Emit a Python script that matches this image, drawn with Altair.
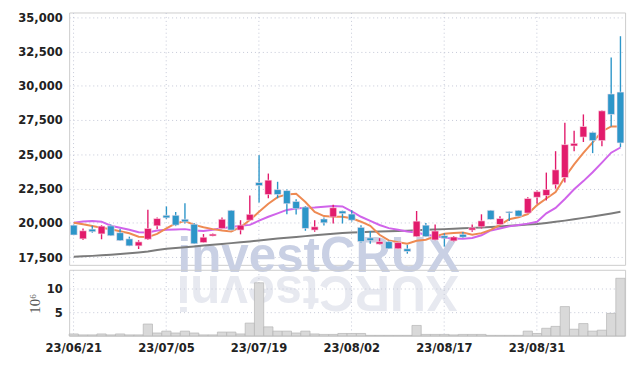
import altair as alt
import pandas as pd

# Trading days (yy/mm/dd)
dates = [
    "23/06/21", "23/06/22", "23/06/23", "23/06/26", "23/06/27", "23/06/28", "23/06/29", "23/06/30",
    "23/07/03", "23/07/04", "23/07/05", "23/07/06", "23/07/07", "23/07/10", "23/07/11", "23/07/12",
    "23/07/13", "23/07/14", "23/07/17", "23/07/18", "23/07/19", "23/07/20", "23/07/21", "23/07/24",
    "23/07/25", "23/07/26", "23/07/27", "23/07/28", "23/07/31", "23/08/01", "23/08/02", "23/08/03",
    "23/08/04", "23/08/07", "23/08/08", "23/08/09", "23/08/10", "23/08/11", "23/08/14", "23/08/16",
    "23/08/17", "23/08/18", "23/08/21", "23/08/22", "23/08/23", "23/08/24", "23/08/25", "23/08/28",
    "23/08/29", "23/08/30", "23/08/31", "23/09/01", "23/09/04", "23/09/05", "23/09/06", "23/09/07",
    "23/09/08", "23/09/11", "23/09/12", "23/09/13",
]
opens = [
    19840, 18840, 19550, 19200, 19790, 19290, 18840, 18330, 18815, 19790,
    20560, 20560, 20270, 19910, 18570, 19050, 19600, 20920, 19480, 20200,
    22950, 22070, 22430, 22360, 21570, 21160, 19480, 20290, 20440, 20870,
    20650, 19680, 18910, 18455, 18640, 18120, 18120, 19000, 19840, 18760,
    19070, 18690, 19170, 19480, 19720, 20920, 19890, 20830, 20920, 20720,
    21870, 22000, 22790, 23310, 25610, 26260, 26600, 26000, 29400, 29540,
]
highs = [
    19880, 19600, 19790, 19840, 19890, 19550, 19000, 18740, 20970, 20400,
    21200, 20800, 21440, 20000, 19190, 19240, 20390, 20940, 20200, 22000,
    24940, 23600, 23000, 22430, 21730, 21230, 20200, 20390, 21330, 20900,
    20920, 19840, 19410, 18890, 18700, 18600, 18400, 20870, 20000, 19890,
    19240, 19050, 19340, 19890, 20630, 20940, 20490, 20860, 20940, 21870,
    22360, 23670, 25230, 27310, 26720, 27910, 26650, 28200, 32050, 33610,
]
lows = [
    19100, 18760, 19290, 18810, 19050, 18690, 18310, 18100, 18760, 19550,
    20270, 19770, 19960, 18460, 18550, 19030, 19580, 19460, 19170, 20180,
    21490, 21800, 21800, 20630, 20610, 19430, 19360, 19820, 19960, 19960,
    20100, 18580, 18480, 18430, 18100, 18100, 17760, 18980, 18980, 18740,
    18280, 18650, 18900, 19360, 19600, 20230, 19870, 20150, 20470, 20700,
    21400, 21640, 22500, 22950, 25230, 25900, 25090, 25590, 27030, 25520,
]
closes = [
    19120, 19430, 19360, 19770, 19070, 18710, 18330, 18620, 19600, 20320,
    20370, 19840, 20080, 18480, 18960, 19190, 20270, 19480, 19840, 20630,
    22720, 23120, 22070, 21400, 21040, 19600, 19720, 20010, 21110, 20680,
    20200, 18640, 18710, 18640, 18120, 18570, 17920, 20130, 19000, 19410,
    18890, 18980, 18960, 19650, 20150, 20250, 20320, 20730, 20490, 21780,
    22280, 22430, 23870, 25710, 25800, 27030, 26000, 28170, 27910, 25830,
]
ma_short = [
    20020, 19900, 19780, 19650, 19540, 19400, 19250, 19000, 18970, 19200,
    19600, 19960, 20140, 19860, 19690, 19550, 19450, 19380, 19690, 20210,
    20810, 21400, 21880, 22080, 22130, 21530, 20810, 20500, 20450, 20450,
    20340, 20090, 19790, 19140, 18730, 18590, 18490, 18700, 18780, 19020,
    19210, 19270, 19300, 19140, 19260, 19500, 19860, 20270, 20410, 20650,
    21300, 21780, 22250, 23330, 24270, 25100, 25870, 26670, 27030, 27030,
]
ma_mid = [
    20020, 20100, 20140, 20090, 19800, 19650, 19500, 19320, 19300, 19450,
    19500, 19530, 19550, 19450, 19420, 19500, 19620, 19700, 19790, 19860,
    20165, 20450, 20700, 20950, 21056, 21100, 21130, 21180, 21240, 21200,
    20850, 20450, 20150, 19850, 19620, 19500, 19375, 19300, 19140, 19050,
    18920, 18860, 18850, 18900, 19100, 19450, 19600, 19750, 19850, 19950,
    20090, 20700, 21100, 21750, 22450, 23050, 23700, 24400, 25120, 25500,
]
ma_long = [
    17540, 17570, 17600, 17640, 17680, 17730, 17790, 17850, 17920, 18030,
    18120, 18180, 18230, 18290, 18350, 18410, 18470, 18530, 18590, 18650,
    18720, 18790, 18860, 18920, 18980, 19040, 19100, 19160, 19210, 19260,
    19300, 19330, 19360, 19380, 19400, 19420, 19440, 19470, 19500, 19530,
    19550, 19580, 19610, 19640, 19670, 19700, 19740, 19790, 19840, 19880,
    19930, 20000, 20080, 20170, 20270, 20370, 20470, 20580, 20690, 20810,
]
volumes = [  # millions of shares
    0.4, 0.2, 0.2, 0.4, 0.2, 0.4, 0.2, 0.2, 2.5, 0.6,
    1.0, 0.6, 1.0, 0.6, 0.2, 0.2, 0.8, 0.8, 0.4, 2.7,
    11.25, 1.9, 1.0, 1.0, 0.6, 1.0, 0.4, 0.3, 0.3, 0.5,
    0.5, 0.5, 0.1, 0.1, 0.1, 0.1, 0.1, 2.2, 0.3, 0.3,
    0.3, 0.2, 0.3, 0.3, 0.3, 0.1, 0.1, 0.1, 0.1, 1.0,
    0.5, 1.6, 2.0, 6.2, 1.4, 2.6, 1.0, 1.2, 4.75, 12.2,
]
price_ticks = [17500, 20000, 22500, 25000, 27500, 30000, 32500, 35000]
volume_ticks = [5, 10]
label_dates = dates[::10]

UP = "#e21b6c"
DOWN = "#2d96c9"
LABEL_FONT = "DejaVu Sans Condensed"

candles = pd.DataFrame({
    "date": dates, "open": opens, "high": highs, "low": lows, "close": closes,
})
ma_df = pd.DataFrame({"date": dates, "short": ma_short, "mid": ma_mid, "long": ma_long})
vol = pd.DataFrame({"date": dates, "volume": volumes})

xscale = alt.Scale(domain=dates, paddingInner=0, paddingOuter=0)
x_price = alt.X("date:O", sort=None, scale=xscale,
                axis=alt.Axis(values=label_dates, labels=False, ticks=False,
                              domain=False, title=None, grid=True))
x_vol = alt.X("date:O", sort=None, scale=xscale,
              axis=alt.Axis(values=label_dates, labelAngle=0, ticks=False,
                            domain=False, title=None, grid=True,
                            labelPadding=6))

yscale = alt.Scale(domain=[16946, 35338], nice=False, zero=False)
y_axis = alt.Axis(values=price_ticks, format=",.0f", title=None, labelPadding=7)


def y_enc(field):
    return alt.Y(field, type="quantitative", scale=yscale, axis=y_axis)


candle_color = alt.condition("datum.close >= datum.open", alt.value(UP), alt.value(DOWN))

watermark = alt.Chart(pd.DataFrame({"t": ["investCRUX"]})).mark_text(
    font="Liberation Sans", fontWeight="bold", fontSize=50, color="#c9d0e4",
    align="left", baseline="alphabetic",
).encode(x=alt.value(110), y=alt.value(263), text="t:N")

reflection = alt.Chart(pd.DataFrame({"t": ["XURCtsevni"]})).mark_text(
    font="Liberation Sans", fontWeight="bold", fontSize=50, color="#e7e9f0",
    align="left", baseline="alphabetic", angle=180,
).encode(x=alt.value(395), y=alt.value(267), text="t:N")

line_long = alt.Chart(ma_df).mark_line(strokeWidth=2, color="#7b7b7b").encode(
    x=x_price, y=y_enc("long"))
line_mid = alt.Chart(ma_df).mark_line(strokeWidth=2, color="#d064ea").encode(
    x=x_price, y=y_enc("mid"))
line_short = alt.Chart(ma_df).mark_line(strokeWidth=2, color="#ee8a52").encode(
    x=x_price, y=y_enc("short"))

wicks = alt.Chart(candles).mark_rule(strokeWidth=1.4).encode(
    x=x_price, y=y_enc("low"), y2="high:Q", color=candle_color,
)
bodies = alt.Chart(candles).mark_bar(size=7, stroke="#fbe4ec", strokeWidth=0.6).encode(
    x=x_price, y=y_enc("open"), y2="close:Q", color=candle_color,
)

price = alt.layer(reflection, watermark, line_long, line_mid, line_short,
                  wicks, bodies).properties(width=564, height=256)

volume = alt.Chart(vol).mark_bar(fill="#d9d9d9", stroke="#b5b5b5", strokeWidth=0.7).encode(
    x=x_vol,
    y=alt.Y("volume:Q", scale=alt.Scale(domain=[0, 14], nice=False),
            axis=alt.Axis(values=volume_ticks, format="d", title="10⁶",
                          titleFont="Liberation Serif",
                          titleFontSize=15, titleFontWeight="normal", titleColor="#555555",
                          titleX=-35, titleY=34, titleAngle=-90, titleAlign="center",
                          titleBaseline="middle", labelPadding=7)),
).properties(width=564, height=67)

chart = alt.vconcat(price, volume, spacing=5, bounds="flush").properties(
    padding={"left": 9, "top": 0, "right": 5, "bottom": 5},
).configure_view(
    stroke="#cccccc", strokeWidth=1
).configure_axis(
    domain=False, ticks=False,
    gridColor="#c3c7d6", gridDash=[1, 3], gridWidth=1,
    labelFont=LABEL_FONT, labelFontSize=13, labelFontWeight="bold",
    labelColor="#222222",
)

chart.save("out.html", embed_options={"renderer": "svg", "actions": False})
